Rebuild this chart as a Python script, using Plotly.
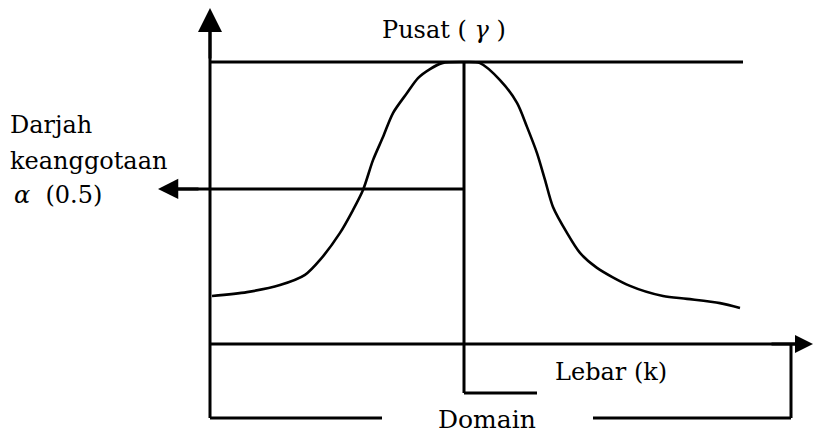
import plotly.graph_objects as go

# ---- data: bell-shaped membership curve (domain units vs membership degree) ----
curve_x = [2, 37, 70, 95, 110, 130, 143, 153, 163, 173, 183, 197, 208, 220, 232, 254,
           270, 290, 307, 317, 327, 335, 343, 357, 370, 387, 420, 453, 477, 510, 530]
curve_y = [0.170, 0.184, 0.209, 0.245, 0.298, 0.394, 0.475, 0.546, 0.652, 0.734, 0.819, 0.890,
           0.943, 0.975, 0.996, 1.0,
           0.996, 0.936, 0.855, 0.770, 0.677, 0.582, 0.486, 0.394, 0.323, 0.270, 0.206, 0.170,
           0.160, 0.145, 0.128]

centre_x = 254        # Pusat (gamma)
alpha_level = 0.55    # Darjah keanggotaan alpha (0.5)
top_level = 1.0
top_end = 533
width_end = 327       # Lebar (k)
domain_end = 581

labels = {
    "pusat": "Pusat (\u00a0<i>γ</i>\u00a0)",
    "darjah": "Darjah",
    "keang": "keanggotaan",
    "alpha": "<i>α</i>\u00a0\u00a0(0.5)",
    "lebar": "Lebar (k)",
    "domain": "Domain",
}

# ---- helpers converting picture layout positions into axis units ----
def X(px):
    return px - 210

def Y(py):
    return (344 - py) / 282.0

FONT = dict(family="DejaVu Serif", size=24, color="black")
LW = 3

fig = go.Figure()

fig.add_trace(go.Scatter(x=curve_x, y=curve_y, mode="lines",
                         line=dict(color="black", width=2.6, shape="spline", smoothing=0.8),
                         hoverinfo="skip", showlegend=False))

def seg(x0, y0, x1, y1, w=LW):
    fig.add_shape(type="line", x0=x0, y0=y0, x1=x1, y1=y1, xref="x", yref="y",
                  line=dict(color="black", width=w), layer="above")

bottom = Y(418)
lebar_y = Y(393)

# y axis (extends down as left side of domain bracket)
seg(0, bottom, 0, Y(20))
# x axis
seg(0, 0, X(800), 0)
# top line (membership = 1)
seg(0, top_level, top_end, top_level)
# centre vertical down to width bracket
seg(centre_x, top_level, centre_x, lebar_y)
seg(centre_x, lebar_y, width_end, lebar_y)
# alpha horizontal line to left arrow
seg(centre_x, alpha_level, X(172), alpha_level)
# domain bracket
seg(domain_end, 0, domain_end, bottom)
seg(0, bottom, X(382), bottom)
seg(X(593), bottom, domain_end, bottom)

def arrow(xt, yt, xs, ys, size):
    fig.add_annotation(x=xt, y=yt, ax=xs, ay=ys, xref="x", yref="y", axref="x", ayref="y",
                       text="", showarrow=True, arrowhead=2, arrowsize=size,
                       arrowwidth=LW, arrowcolor="black", standoff=0, startstandoff=0)

arrow(0, Y(8), 0, Y(60), 1.6)
arrow(X(158), alpha_level, X(200), alpha_level, 1.35)
arrow(X(813), 0, X(770), 0, 1.2)

def text(key, px, py, anchor="left", size=24):
    f = dict(FONT)
    f["size"] = size
    fig.add_annotation(x=X(px), y=Y(py), xref="x", yref="y", text=labels[key],
                       showarrow=False, xanchor=anchor, yanchor="middle", font=f)

text("pusat", 380, 30)
text("darjah", 8, 125)
text("keang", 8, 161)
text("alpha", 12, 195)
text("lebar", 553, 372)
text("domain", 487, 419, anchor="center", size=25)

fig.update_layout(
    width=814, height=436,
    margin=dict(l=0, r=0, t=0, b=0),
    paper_bgcolor="white", plot_bgcolor="white",
    xaxis=dict(range=[X(0), X(814)], visible=False, fixedrange=True),
    yaxis=dict(range=[Y(436), Y(0)], visible=False, fixedrange=True),
    showlegend=False,
)

fig.write_html("out.html", config={"displayModeBar": False},
               post_script="document.body.style.margin='0';")
